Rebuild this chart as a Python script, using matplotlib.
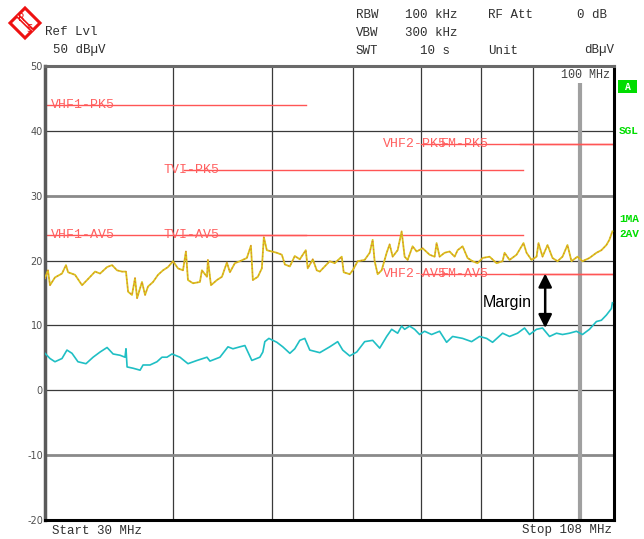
import numpy as np
import matplotlib
matplotlib.use("Agg")
import matplotlib.pyplot as plt
from matplotlib.patches import Polygon, Rectangle, FancyArrowPatch

# ---------------- data ----------------
peak_freq = [30.00, 30.20, 30.34, 30.68, 31.17, 31.45, 31.60, 32.10, 32.61, 32.98,
             33.58, 33.96, 34.50, 34.89, 35.28, 35.68, 36.00, 36.17, 36.49, 36.74,
             36.91, 37.32, 37.58, 37.83, 38.26, 38.69, 39.13, 39.57, 40.02, 40.47,
             40.93, 41.20, 41.39, 41.86, 42.52, 42.71, 43.20, 43.29, 43.59, 44.18,
             44.68, 45.18, 45.49, 46.00, 46.52, 47.26, 47.69, 47.90, 48.44, 48.88,
             49.10, 49.43, 49.99, 50.56, 51.13, 51.48, 52.06, 52.64, 53.24, 53.96,
             54.20, 54.82, 55.31, 55.69, 56.95, 57.59, 58.51, 58.77, 59.57, 59.97,
             60.65, 61.61, 62.31, 62.73, 63.01, 63.44, 64.01, 64.74, 65.17, 65.62,
             66.36, 66.96, 67.41, 67.87, 68.63, 69.26, 70.20, 71.31, 72.12, 72.44,
             72.93, 73.76, 74.59, 75.44, 75.95, 76.81, 77.67, 78.55, 79.44, 80.34,
             81.61, 82.91, 84.04, 84.42, 85.37, 86.72, 88.10, 88.70, 89.70, 90.72,
             91.12, 91.95, 92.99, 94.04, 95.10, 96.18, 97.26, 98.14, 99.47, 100.60,
             102.19, 103.81, 104.98, 106.17, 106.88, 107.61]
peak_level = [17.3, 18.5, 16.2, 17.4, 18.0, 19.3, 18.2, 17.8, 16.2, 17.0,
              18.3, 18.0, 19.0, 19.3, 18.5, 18.3, 18.3, 15.2, 14.7, 17.3,
              14.2, 16.7, 14.7, 16.0, 16.7, 17.8, 18.5, 19.0, 19.9, 18.8,
              18.5, 21.4, 17.0, 16.5, 16.7, 18.5, 17.5, 20.1, 16.2, 17.0,
              17.5, 19.7, 18.2, 19.6, 19.9, 20.4, 22.3, 17.0, 17.5, 18.8,
              23.6, 21.6, 21.4, 21.2, 20.9, 19.4, 19.1, 20.7, 20.2, 21.6,
              18.8, 20.2, 18.5, 18.3, 19.9, 19.6, 20.6, 18.2, 17.9, 18.5,
              19.9, 20.1, 21.2, 23.2, 19.9, 17.9, 18.5, 21.2, 22.5, 20.6,
              21.6, 24.5, 20.6, 20.1, 22.2, 21.4, 21.9, 20.9, 20.6, 22.7,
              20.6, 21.2, 21.4, 20.6, 21.6, 22.2, 20.4, 19.9, 19.6, 20.4,
              20.6, 19.6, 19.9, 21.2, 20.1, 20.9, 22.7, 21.2, 20.1, 20.6,
              22.7, 20.6, 22.4, 20.4, 19.9, 20.6, 22.4, 19.9, 20.6, 19.9,
              20.4, 21.2, 21.6, 22.4, 23.2, 24.5]

avg_freq = [30.00, 30.34, 30.68, 31.17, 31.52, 31.88, 32.31, 32.90, 33.43, 33.96,
            34.50, 34.97, 35.52, 35.92, 36.00, 36.09, 36.58, 37.16, 37.41, 38.00,
            38.60, 39.04, 39.48, 39.93, 40.65, 41.39, 42.24, 43.20, 43.49, 44.48,
            45.29, 45.80, 46.52, 47.05, 47.79, 48.66, 48.99, 49.21, 49.66, 50.56,
            51.24, 52.06, 52.64, 53.24, 53.84, 54.45, 55.69, 56.95, 57.98, 58.64,
            59.57, 60.52, 61.61, 62.73, 63.73, 64.74, 65.47, 66.36, 66.96, 67.41,
            68.17, 68.94, 69.72, 70.51, 71.63, 72.93, 74.09, 75.10, 76.81, 78.38,
            79.80, 81.07, 82.17, 84.04, 85.37, 86.92, 88.30, 89.30, 90.72, 91.95,
            93.41, 94.89, 96.18, 97.70, 99.25, 100.60, 102.19, 103.81, 104.98, 106.17,
            107.37, 107.61]
avg_level = [5.7, 4.9, 4.4, 4.9, 6.2, 5.7, 4.4, 4.1, 5.1, 5.9,
             6.6, 5.6, 5.4, 5.1, 6.4, 3.6, 3.4, 3.1, 3.9, 3.9,
             4.4, 5.1, 5.1, 5.6, 5.1, 4.1, 4.6, 5.1, 4.5, 5.1,
             6.7, 6.4, 6.7, 6.9, 4.6, 5.1, 5.9, 7.5, 8.0, 7.4,
             6.7, 5.7, 6.4, 7.7, 8.0, 6.2, 5.8, 6.7, 7.5, 6.2,
             5.3, 5.9, 7.5, 7.7, 6.5, 8.3, 9.4, 8.8, 9.9, 9.4,
             9.9, 9.4, 8.6, 9.1, 8.6, 9.1, 7.4, 8.3, 8.0, 7.5,
             8.3, 8.0, 7.4, 8.8, 8.3, 8.8, 9.6, 8.6, 9.4, 9.6,
             8.3, 8.8, 8.6, 8.8, 9.1, 8.6, 9.4, 10.6, 10.8, 11.6,
             12.6, 13.5]

# limit lines: (label, level dB, start MHz, stop MHz)
limit_names = ["VHF1-PK5", "VHF1-AV5", "TVI-PK5", "TVI-AV5",
               "VHF2-PK5", "VHF2-AV5", "FM-PK5", "FM-AV5"]
limit_levels = [44, 24, 34, 24, 38, 18, 38, 18]
limit_start = [30, 30, 41, 41, 70, 70, 87.5, 87.5]
limit_stop = [54, 54, 88, 88, 108, 108, 108, 108]
limit_label_freq = [30.41, 30.41, 39.13, 39.13, 64.2, 64.2, 73.2, 73.2]

grid_freqs = [40, 50, 60, 70, 80, 90]
grid_levels = [40, 20, 10, 0]
grid_levels_light = [30, -10]
y_ticks = [50, 40, 30, 20, 10, 0, -10, -20]
marker_freq = 100

# ---------------- figure ----------------
W, H = 644, 539
fig = plt.figure(figsize=(W / 100, H / 100), dpi=100)
fig.patch.set_facecolor("white")


def fx(x):
    return x / W


def fy(y):
    return 1 - y / H


L, R, T, B = 45, 614, 66, 520
ax = fig.add_axes([fx(L), fy(B), (R - L) / W, (B - T) / H])
ax.set_xscale("log")
ax.set_xlim(30, 108)
ax.set_ylim(-20, 50)
ax.set_xticks([])
ax.set_xticks([], minor=True)
ax.set_yticks(y_ticks)
ax.set_yticklabels([str(v) for v in y_ticks], fontsize=7, color="#505050",
                   family="DejaVu Sans")
ax.tick_params(axis="y", length=0, pad=1.5)

for s, c, lw in [("left", "#5a5a5a", 2.5), ("top", "#6a6a6a", 2.2),
                 ("right", "#000000", 2.2), ("bottom", "#000000", 2.2)]:
    ax.spines[s].set_color(c)
    ax.spines[s].set_linewidth(lw)

grid_c = "#3a3a3a"
for f in grid_freqs:
    ax.axvline(f, color=grid_c, lw=0.9, zorder=1)
for lv in grid_levels:
    ax.axhline(lv, color=grid_c, lw=0.9, zorder=1)
for lv in grid_levels_light:
    ax.axhline(lv, color="#8a8a8a", lw=2.0, zorder=1)
ax.axvline(marker_freq, color="#a0a0a0", lw=3.0, zorder=1)

# limit lines
lim_c = "#ff5555"
for name, lv, f0, f1, fl in zip(limit_names, limit_levels, limit_start,
                                limit_stop, limit_label_freq):
    ax.plot([f0, f1], [lv, lv], color=lim_c, lw=1.0, zorder=2)
    ax.text(fl, lv, name, color="#ff6060", fontsize=9.5, family="Liberation Mono",
            ha="left", va="center", zorder=3)

# traces
ax.plot(peak_freq, peak_level, color="#d8c41c", lw=1.3, zorder=4)
ax.plot(peak_freq, peak_level, color="#e07a30", lw=0.8, ls=(0, (1, 2.5)), zorder=4)
ax.plot(avg_freq, avg_level, color="#1fbfc4", lw=1.2, zorder=4)

# margin arrow
arr = FancyArrowPatch((92.5, 18.0), (92.5, 9.6), arrowstyle="<|-|>",
                      mutation_scale=20, color="black", lw=1.8, zorder=6,
                      shrinkA=0, shrinkB=0)
ax.add_patch(arr)
fig.text(fx(532), fy(302), "Margin", fontsize=11.5, family="Liberation Sans",
         ha="right", va="center", color="black")

# marker label
fig.text(fx(610), fy(75.5), "100 MHz", fontsize=8.5, family="Liberation Mono",
         ha="right", va="center", color="#404040",
         bbox=dict(facecolor="white", edgecolor="none", pad=1.0))

# header
hc = "#303030"
mono = dict(family="Liberation Mono", fontsize=9, color=hc, va="center", ha="left")
fig.text(fx(45), fy(32), "Ref Lvl", **mono)
fig.text(fx(53), fy(50), "50 dB\u00b5V", **mono)
fig.text(fx(356), fy(14.5), "RBW", **mono)
fig.text(fx(405), fy(14.5), "100 kHz", **mono)
fig.text(fx(488), fy(14.5), "RF Att", **mono)
fig.text(fx(577), fy(14.5), "0 dB", **mono)
fig.text(fx(356), fy(32.5), "VBW", **mono)
fig.text(fx(405), fy(32.5), "300 kHz", **mono)
fig.text(fx(356), fy(50.5), "SWT", **mono)
fig.text(fx(420), fy(50.5), "10 s", **mono)
fig.text(fx(488), fy(50.5), "Unit", **mono)
fig.text(fx(614), fy(50.5), "dB\u00b5V", family="Liberation Mono", fontsize=9,
         color=hc, va="center", ha="right")

# bottom labels
fig.text(fx(52), fy(530.5), "Start 30 MHz", **mono)
fig.text(fx(612), fy(530.5), "Stop 108 MHz", family="Liberation Mono", fontsize=9,
         color=hc, va="center", ha="right")

# right side status labels
gc = "#00dd00"
fig.patches.append(Rectangle((fx(618), fy(93)), 19 / W, 13 / H, transform=fig.transFigure,
                             facecolor=gc, edgecolor="none"))
fig.text(fx(627.5), fy(86.5), "A", family="Liberation Mono", fontsize=7,
         fontweight="bold", color="white", ha="center", va="center")
for txt, yy in [("SGL", 131), ("1MA", 219), ("2AV", 234)]:
    fig.text(fx(619), fy(yy), txt, family="Liberation Mono", fontsize=8,
             fontweight="bold", color=gc, ha="left", va="center")

# logo
lg = fig.add_axes([fx(5), fy(42), 40 / W, 38 / H])
lg.set_xlim(0, 40)
lg.set_ylim(38, 0)
lg.axis("off")
lg.add_patch(Polygon([(20, 4), (35, 19), (20, 34), (5, 19)], closed=True,
                     facecolor="white", edgecolor="#ee1111", lw=2.2))
lg.add_patch(Polygon([(11.5, 13.5), (14.5, 10.5), (29, 25), (26, 28)], closed=True,
                     facecolor="#ee1111", edgecolor="none"))
lg.plot([13, 27.5], [12, 26.5], color="white", lw=0.7)
lg.text(16, 14, "R", color="#ee1111", fontsize=7, ha="center", va="center",
        family="DejaVu Sans")
lg.text(24.5, 25, "S", color="#ee1111", fontsize=7, ha="center", va="center",
        family="DejaVu Sans")

fig.savefig("out.png", dpi=100)
